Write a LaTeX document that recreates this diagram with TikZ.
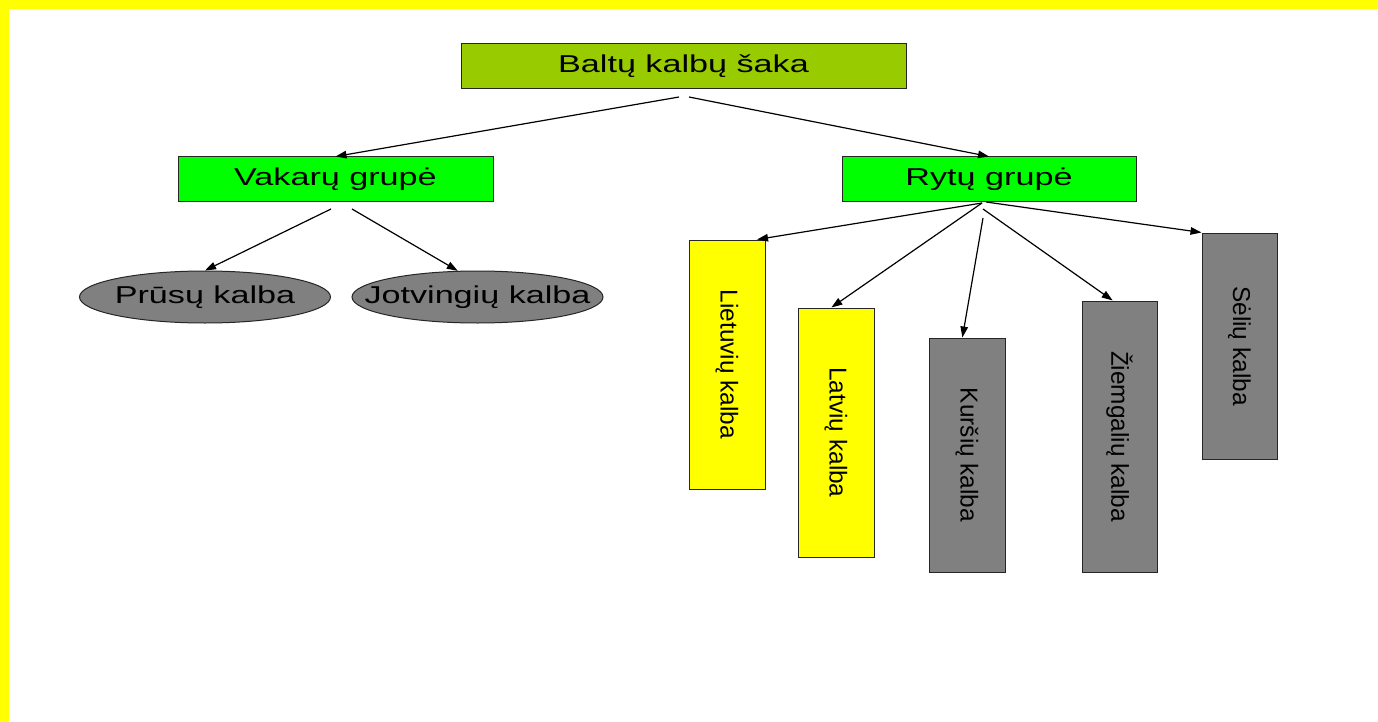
\documentclass[tikz,border=0pt]{standalone}
\usepackage{fontspec}
\setmainfont{Liberation Sans}
\usetikzlibrary{arrows.meta,calc,shapes.geometric}
\definecolor{baltgreen}{HTML}{99CC00}
\definecolor{grpgreen}{HTML}{00FF00}
\definecolor{langyellow}{HTML}{FFFF00}
\definecolor{langgray}{HTML}{808080}
\newcommand\htxt[1]{\scalebox{1.4}[1]{#1}}
\newcommand\vtxt[1]{\rotatebox{-90}{#1}}
\begin{document}
\begin{tikzpicture}[x=1pt,y=-1pt,
  every node/.style={font=\fontsize{24.4pt}{29pt}\selectfont, text=black},
  boxn/.style={draw=black!85, line width=1pt, inner sep=0pt, rectangle},
  ellbox/.style={draw=black!85, line width=1pt, inner sep=0pt, ellipse, fill=langgray,
    minimum width=251pt, minimum height=52pt},
  arr/.style={line width=1.2pt, -{Triangle[length=11pt,width=7.5pt]}}]
\useasboundingbox (0,0) rectangle (1378,722);
\fill[langyellow] (-5,-5) rectangle (1390,730);
\fill[white] (9,9) rectangle (1390,730);

% boxes
\node[boxn, fill=baltgreen, minimum width=445pt, minimum height=45pt] (top) at (683.5,66.5) {\htxt{Baltų kalbų šaka}};
\node[boxn, fill=grpgreen, minimum width=315pt, minimum height=45pt] (vk) at (335.5,179.5) {\htxt{Vakarų grupė}};
\node[boxn, fill=grpgreen, minimum width=294pt, minimum height=45pt] (ry) at (989,179.5) {\htxt{Rytų grupė}};

\node[ellbox] (pr) at (205,297) {};
\node (prt) at (pr.center) {\htxt{Prūsų kalba}};
\node[ellbox] (jo) at (477.5,297) {};
\node (jot) at (jo.center) {\htxt{Jotvingių kalba}};

\node[boxn, fill=langyellow, minimum width=76pt, minimum height=249pt] (lt) at (727,364.5) {\vtxt{Lietuvių kalba}};
\node[boxn, fill=langyellow, minimum width=76pt, minimum height=249pt] (lv) at (836,432.5) {\vtxt{Latvių kalba}};
\node[boxn, fill=langgray, minimum width=76pt, minimum height=234pt] (ku) at (967,455) {\vtxt{Kuršių kalba}};
\node[boxn, fill=langgray, minimum width=75pt, minimum height=271pt] (zi) at (1119.5,436.5) {\vtxt{Žiemgalių kalba}};
\node[boxn, fill=langgray, minimum width=75pt, minimum height=226pt] (se) at (1239.5,346) {\vtxt{Sėlių kalba}};

% free ends
\coordinate (t1) at (679,97);
\coordinate (t2) at (689,97);
\coordinate (v1) at (331,209);
\coordinate (v2) at (352,209);
\coordinate (r1) at (982,203);
\coordinate (r2) at (982,203);
\coordinate (r3) at (983,218);
\coordinate (r4) at (983,209);
\coordinate (r5) at (986,202);

% connectors
\draw[arr] (t1) -- (vk.north);
\draw[arr] (t2) -- (ry.north);
\draw[arr] (v1) -- (pr.north);
\draw[arr] (v2) -- (jo.127);
\draw[arr] (r1) -- ($(lt.north west)!0.89!(lt.north east)$);
\draw[arr] (r2) -- ($(lv.north west)!0.44!(lv.north east)$);
\draw[arr] (r3) -- ($(ku.north west)!0.44!(ku.north east)$);
\draw[arr] (r4) -- ($(zi.north west)!0.41!(zi.north east)$);
\draw[arr] (r5) -- (se.north west);
\end{tikzpicture}
\end{document}
